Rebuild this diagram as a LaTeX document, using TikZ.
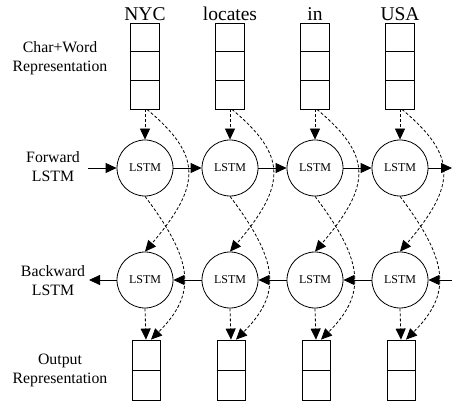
\documentclass[tikz,border=0pt]{standalone}
\usepackage{fontspec}
\setmainfont{Liberation Serif}
\usetikzlibrary{arrows.meta,calc}
\begin{document}
\begin{tikzpicture}[x=1pt,y=-1pt,
  inbox/.style={draw,line width=0.8pt,minimum width=29pt,minimum height=86pt,inner sep=0pt},
  outbox/.style={draw,line width=0.8pt,minimum width=28pt,minimum height=60pt,inner sep=0pt},
  lstm/.style={draw,circle,line width=0.8pt,minimum size=56pt,inner sep=0pt,font=\fontsize{12}{14}\selectfont},
  word/.style={anchor=base,font=\fontsize{19.5}{20}\selectfont,inner sep=0pt},
  lab/.style={align=center,font=\fontsize{15.8}{19}\selectfont,inner sep=0pt},
  conn/.style={line width=0.8pt,-{Triangle[length=11pt,width=10pt]}},
  dconn/.style={conn,dash pattern=on 3pt off 2pt},
  divider/.style={line width=0.8pt},
]
\useasboundingbox (0,0) rectangle (452,403);
\foreach \i/\x/\w in {1/145/NYC,2/230/locates,3/315/in,4/400/USA} {
  \node[inbox] (in\i) at (\x,66) {};
  \draw[divider] ($(in\i.north west)!1/3!(in\i.south west)$) -- ($(in\i.north east)!1/3!(in\i.south east)$);
  \draw[divider] ($(in\i.north west)!2/3!(in\i.south west)$) -- ($(in\i.north east)!2/3!(in\i.south east)$);
  \node[word] (w\i) at (\x,20.5) {\w};
  \node[lstm] (f\i) at (\x,168) {LSTM};
  \node[lstm] (b\i) at (\x,280) {LSTM};
  \node[outbox] (o\i) at (\x+1,370) {};
  \draw[divider] (o\i.west) -- (o\i.east);
  \draw[dconn] (in\i.south) -- (f\i.north);
  \draw[dconn] ([xshift=2pt]in\i.south) .. controls +(55,46) and +(57,-67) .. (b\i.north);
  \draw[dconn] (f\i.south) .. controls +(50,66) and +(45,-45) .. ([xshift=5pt]o\i.north);
  \draw[dconn] (b\i.south) -- (o\i.north);
}
\node[lab] (l1) at (60,58) {Char+Word\\Representation};
\node[lab] (l2) at (53,167) {Forward\\LSTM};
\node[lab] (l3) at (53,281) {Backward\\LSTM};
\node[lab] (l4) at (60,370) {Output\\Representation};
\coordinate (fin) at (88,168);
\coordinate (fout) at (452,168);
\coordinate (bout) at (89,280);
\coordinate (bin) at (452,280);
\draw[conn] (fin) -- (f1.west);
\draw[conn] (f1.east) -- (f2.west);
\draw[conn] (f2.east) -- (f3.west);
\draw[conn] (f3.east) -- (f4.west);
\draw[conn] (f4.east) -- (fout);
\draw[conn] (b1.west) -- (bout);
\draw[conn] (b2.west) -- (b1.east);
\draw[conn] (b3.west) -- (b2.east);
\draw[conn] (b4.west) -- (b3.east);
\draw[conn] (bin) -- (b4.east);
\end{tikzpicture}
\end{document}
